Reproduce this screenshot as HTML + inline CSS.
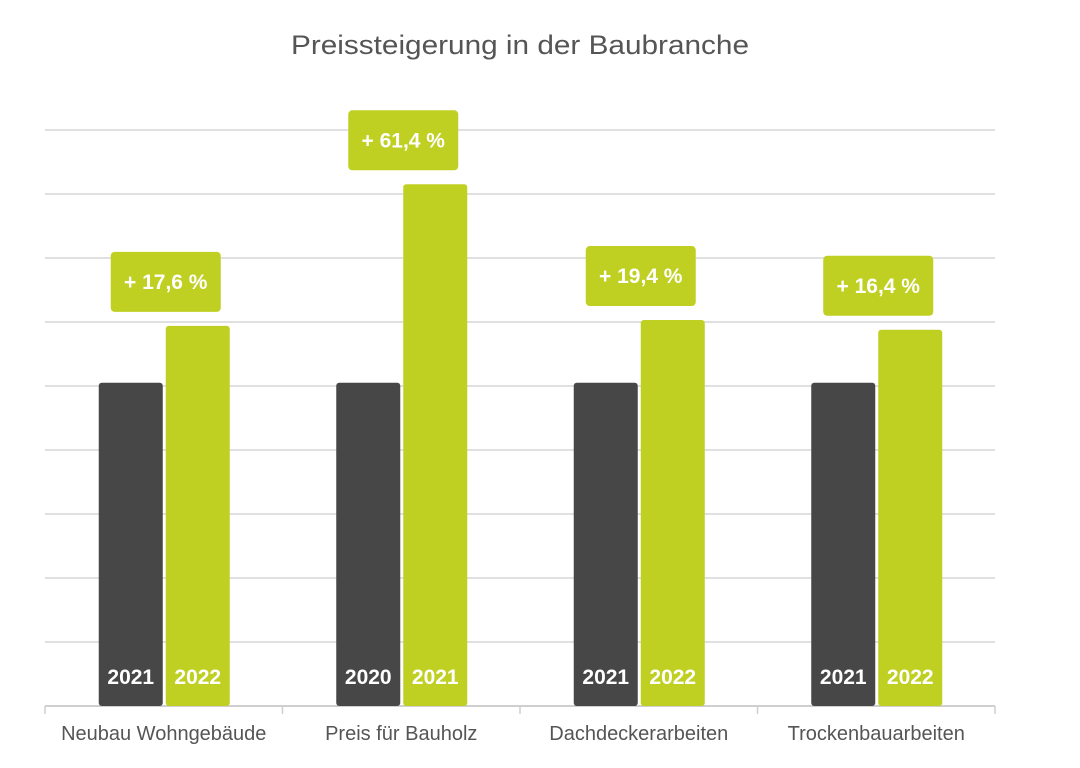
<!DOCTYPE html>
<html><head><meta charset="utf-8"><style>
html,body{margin:0;padding:0;background:#fff;width:1080px;height:768px;overflow:hidden}
svg{display:block}
text{font-family:"Liberation Sans",Arial,sans-serif}
</style></head><body>
<svg id="chart" width="1080" height="768">
<text x="520" y="54" text-anchor="middle" font-size="27" fill="#555" textLength="458" lengthAdjust="spacingAndGlyphs">Preissteigerung in der Baubranche</text>
<g id="grid"></g><g id="bars"></g><g id="labels"></g>
</svg>
<script>
const categories=["Neubau Wohngebäude","Preis für Bauholz","Dachdeckerarbeiten","Trockenbauarbeiten"];
const baseValues=[100,100,100,100];
const newValues=[117.6,161.4,119.4,116.4];
const baseYears=["2021","2020","2021","2021"];
const newYears=["2022","2021","2022","2022"];
const changeLabels=["+ 17,6 %","+ 61,4 %","+ 19,4 %","+ 16,4 %"];
const yMax=178.2, gridCount=9;
const ns="http://www.w3.org/2000/svg";
const X0=45,X1=995,Y0=706,Y1=130;
const y=v=>Y0-(v/yMax)*(Y0-Y1);
const band=(X1-X0)/categories.length;
const cx=i=>X0+band*(i+0.5);
function mk(tag,attrs,parent){const e=document.createElementNS(ns,tag);for(const k in attrs)e.setAttribute(k,attrs[k]);parent.appendChild(e);return e;}
const grid=document.getElementById('grid'),bars=document.getElementById('bars'),labels=document.getElementById('labels');
for(let g=1;g<=gridCount;g++){const yy=Y0-g*(Y0-Y1)/gridCount;
 const l=mk('line',{x1:X0,x2:X1,y1:yy,y2:yy,stroke:'#e0e0e0','stroke-width':2},grid);
 
 }
const ax=mk('line',{x1:X0,x2:X1,y1:Y0,y2:Y0,stroke:'#cfcfcf','stroke-width':2},grid);


for(let i=0;i<=categories.length;i++){const xx=X0+band*i;
 const t=mk('line',{x1:xx,x2:xx,y1:Y0,y2:Y0+8,stroke:'#cfcfcf','stroke-width':1.5},grid);
 
 }
categories.forEach((c,i)=>{
 const c0=cx(i);
 const b1=mk('rect',{x:c0-65,y:y(baseValues[i]),width:64,height:Y0-y(baseValues[i]),fill:'#474747',rx:3},bars);
 
 
 const b2=mk('rect',{x:c0+2,y:y(newValues[i]),width:64,height:Y0-y(newValues[i]),fill:'#bfd022',rx:3},bars);
 
 
 const t1=mk('text',{x:c0-33,y:684,'text-anchor':'middle','font-size':21,'font-weight':'bold',fill:'#fff'},labels);t1.textContent=baseYears[i];
 
 
 const t2=mk('text',{x:c0+34,y:684,'text-anchor':'middle','font-size':21,'font-weight':'bold',fill:'#fff'},labels);t2.textContent=newYears[i];
 
 
 const bb=y(newValues[i])-14;
 const bx=mk('rect',{x:c0-53,y:bb-60,width:110,height:60,fill:'#bfd022',rx:4},labels);
 
 
 const bt=mk('text',{x:c0+2,y:bb-23,'text-anchor':'middle','font-size':21,'font-weight':'bold',fill:'#fff'},labels);bt.textContent=changeLabels[i];
 
 
 const cl=mk('text',{x:c0,y:740,'text-anchor':'middle','font-size':20,fill:'#555'},labels);cl.textContent=c;
 
 
});
</script>
</body></html>
